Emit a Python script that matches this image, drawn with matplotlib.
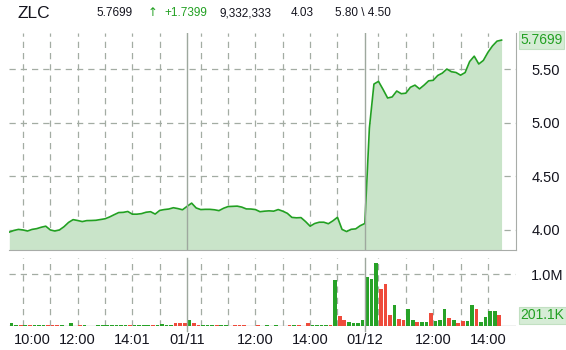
import numpy as np
import matplotlib
matplotlib.use("Agg")
import matplotlib.pyplot as plt
from matplotlib.transforms import ScaledTranslation

# ---------------- data ----------------
symbol = "ZLC"
last_price = "5.7699"
change = "+1.7399"
total_volume = "9,332,333"
prev_close = "4.03"
high_low = "5.80 \\ 4.50"

# 10-minute price samples per trading day
day1_price = [3.98, 3.995, 4.005, 4.00, 3.99, 4.005, 4.012, 4.025, 4.035, 4.00,
              3.99, 4.00, 4.03, 4.07, 4.096, 4.088, 4.078, 4.087, 4.088, 4.09,
              4.097, 4.104, 4.121, 4.142, 4.162, 4.164, 4.172, 4.147, 4.147, 4.152,
              4.165, 4.17, 4.148, 4.182, 4.19, 4.195, 4.207, 4.199, 4.188, 4.22]   # 9:30..16:00
day2_price = [4.25, 4.205, 4.19, 4.192, 4.192, 4.188, 4.18, 4.202, 4.218, 4.22,
              4.222, 4.213, 4.196, 4.195, 4.19, 4.17, 4.175, 4.178, 4.175, 4.19,
              4.175, 4.155, 4.117, 4.113, 4.115, 4.078, 4.035, 4.06, 4.072, 4.072,
              4.058, 4.085, 4.118, 4.005, 3.985, 4.006, 4.01, 4.04, 4.06]           # 9:40..16:00
day3_price = [4.95, 5.36, 5.385, 5.31, 5.23, 5.24, 5.295, 5.27, 5.275, 5.33,
              5.35, 5.315, 5.35, 5.39, 5.395, 5.44, 5.462, 5.50, 5.475, 5.468,
              5.443, 5.467, 5.57, 5.62, 5.547, 5.58, 5.655, 5.715, 5.76, 5.7699]    # 9:40..14:30

# 10-minute volume bars (millions) and direction (u = up, d = down)
day1_vol = [0.058, 0.012, 0.012, 0.012, 0.026, 0.012, 0.012, 0.012, 0.012, 0.012,
            0.012, 0.012, 0.0, 0.058, 0.0, 0.026, 0.012, 0.0, 0.0, 0.012,
            0.022, 0.022, 0.022, 0.012, 0.012, 0.012, 0.012, 0.012, 0.012, 0.012,
            0.012, 0.022, 0.012, 0.04, 0.012, 0.012, 0.05, 0.058, 0.058]
day1_dir = ['u', 'u', 'd', 'u', 'd', 'u', 'u', 'u', 'd', 'd',
            'd', 'u', 'u', 'u', 'u', 'd', 'u', 'u', 'u', 'u',
            'u', 'u', 'u', 'u', 'u', 'u', 'd', 'u', 'u', 'u',
            'u', 'd', 'u', 'u', 'u', 'u', 'd', 'd', 'd']
day2_vol = [0.11, 0.058, 0.026, 0.026, 0.012, 0.012, 0.012, 0.012, 0.012, 0.0,
            0.012, 0.012, 0.012, 0.0, 0.0, 0.012, 0.0, 0.012, 0.0, 0.012,
            0.0, 0.0, 0.022, 0.012, 0.012, 0.0, 0.058, 0.012, 0.012, 0.012,
            0.012, 0.012, 0.89, 0.185, 0.12, 0.085, 0.05, 0.05, 0.12]
day2_dir = ['u', 'd', 'd', 'u', 'u', 'u', 'd', 'u', 'u', 'u',
            'd', 'd', 'd', 'u', 'u', 'd', 'u', 'u', 'u', 'u',
            'u', 'u', 'd', 'u', 'd', 'u', 'd', 'u', 'u', 'u',
            'u', 'd', 'u', 'd', 'd', 'u', 'u', 'u', 'u']
day3_vol = [0.95, 0.91, 1.22, 0.72, 0.80, 0.22, 0.395, 0.127, 0.108, 0.318,
            0.108, 0.07, 0.07, 0.07, 0.26, 0.089, 0.108, 0.318, 0.146, 0.108,
            0.05, 0.089, 0.089, 0.395, 0.318, 0.07, 0.166, 0.28, 0.28, 0.204]
day3_dir = ['u', 'u', 'u', 'd', 'd', 'd', 'u', 'd', 'd', 'u',
            'u', 'd', 'u', 'u', 'd', 'u', 'u', 'u', 'd', 'u',
            'd', 'd', 'u', 'u', 'd', 'u', 'u', 'u', 'u', 'd']

price_ticks = [4.00, 4.50, 5.00, 5.50]
price_tick_labels = ["4.00", "4.50", "5.00", "5.50"]
vol_ticks = [1.0]
vol_tick_labels = ["1.0M"]
last_vol_label = "201.1K"

# x tick labels: (day index, time, label)
x_tick_day = [0, 0, 0, 1, 1, 1, 2, 2, 2]
x_tick_time = ["10:00", "12:00", "14:00", "09:30", "12:00", "14:00", "09:30", "12:00", "14:00"]
x_tick_labels = ["10:00", "12:00", "14:01", "01/11", "12:00", "14:00", "01/12", "12:00", "14:00"]

# ---------------- helpers ----------------
BARS_PER_DAY = 39


def tpos(day, hhmm):
    h, m = map(int, hhmm.split(":"))
    return day * BARS_PER_DAY + (h * 60 + m - 570) / 10.0


t1 = np.arange(len(day1_price))
t2 = BARS_PER_DAY + 1 + np.arange(len(day2_price))
t3 = 2 * BARS_PER_DAY + 1 + np.arange(len(day3_price))
t_price = np.concatenate([t1, t2, t3])
price = np.array(day1_price + day2_price + day3_price)

vols = np.array(day1_vol + day2_vol + day3_vol)
dirs = day1_dir + day2_dir + day3_dir
t_vol = np.concatenate([d * BARS_PER_DAY + np.arange(n) + 0.5
                        for d, n in enumerate([len(day1_vol), len(day2_vol), len(day3_vol)])])

# ---------------- styling ----------------
W, H = 566, 350
GREEN_LINE = "#22a022"
FILL = "#c9e4c9"
BAR_UP = "#27a227"
BAR_DN = "#ee4b3b"
GRID = "#a3aca3"
SEP = "#9ea89e"
TXT = "#14141e"
FONT = "Liberation Sans"
plt.rcParams["font.family"] = [FONT, "DejaVu Sans"]

fig = plt.figure(figsize=(W / 100, H / 100), dpi=100)
fig.patch.set_facecolor("white")

x_left_px, x_right_px = 9.3, 516
px_per_unit = 4.558
xmin = 0
xmax = (x_right_px - x_left_px) / px_per_unit


def frac_x(px):
    return px / W


def frac_y(px_from_top):
    return 1 - px_from_top / H


ax = fig.add_axes([frac_x(x_left_px), frac_y(250), frac_x(x_right_px - x_left_px), (250 - 33) / H])
axv = fig.add_axes([frac_x(x_left_px), frac_y(326), frac_x(x_right_px - x_left_px), (326 - 258) / H])

ymin, ymax = 3.813, 5.836
for a in (ax, axv):
    a.set_xlim(xmin, xmax)
    for s in a.spines.values():
        s.set_visible(False)
    a.set_facecolor("none")

ax.set_ylim(ymin, ymax)
axv.set_ylim(0, 1.31)

# grid lines
dash = (0, (5, 4))
for yv in price_ticks:
    ax.axhline(yv, color=GRID, lw=0.9, ls=dash, zorder=1)
for yv in vol_ticks:
    axv.axhline(yv, color=GRID, lw=0.9, ls=dash, zorder=1)

for d in range(3):
    for h in range(10, 16):
        x = tpos(d, f"{h}:00")
        if x < xmax - 2:
            ax.axvline(x, color=GRID, lw=0.9, ls=dash, zorder=1)
            axv.axvline(x, color=GRID, lw=0.9, ls=dash, zorder=1)
for d in (1, 2):
    x = tpos(d, "09:30")
    ax.axvline(x, color=SEP, lw=1.0, zorder=4)
    axv.axvline(x, color=SEP, lw=1.0, ymin=-0.07, ymax=1, clip_on=False, zorder=4)

# price area
ax.fill_between(t_price, price, ymin, color=FILL, lw=0, zorder=2)
ax.plot(t_price, price, color=GREEN_LINE, lw=1.2, zorder=3)

# borders of price panel
ax.spines["bottom"].set_visible(True)
ax.spines["bottom"].set_color("#a8aca8")
ax.spines["right"].set_visible(True)
ax.spines["right"].set_color("#a8aca8")

# volume bars
colors = [BAR_UP if c == "u" else BAR_DN for c in dirs]
axv.bar(t_vol, vols, width=0.8, color=colors, lw=0, zorder=3)
axv.axhline(0, color="#b5b8b5", lw=1.0, zorder=2)

# y tick labels
ax.yaxis.tick_right()
ax.set_yticks(price_ticks, price_tick_labels)
ax.tick_params(axis="y", length=0, pad=11, labelsize=10.5, labelcolor=TXT)
axv.yaxis.tick_right()
axv.set_yticks(vol_ticks, vol_tick_labels)
axv.tick_params(axis="y", length=0, pad=11, labelsize=10.5, labelcolor=TXT)

# x tick labels
ax.set_xticks([])
xt = [tpos(d, t) for d, t in zip(x_tick_day, x_tick_time)]
axv.set_xticks(xt, x_tick_labels)
axv.tick_params(axis="x", length=0, pad=5, labelsize=10.5, labelcolor=TXT)
first = axv.get_xticklabels()[0]
first.set_transform(first.get_transform() + ScaledTranslation(9 / 100, 0, fig.dpi_scale_trans))

# last value boxes
box = dict(boxstyle="square,pad=0.12", fc="#d6ecd6", ec="#c2e0c2", lw=0.8)
ax.annotate(last_price, xy=(1, price[-1]), xycoords=("axes fraction", "data"),
            xytext=(3.0, 0), textcoords="offset points", ha="left", va="center",
            fontsize=10, color=GREEN_LINE, bbox=box, annotation_clip=False)
axv.annotate(last_vol_label, xy=(1, vols[-1]), xycoords=("axes fraction", "data"),
             xytext=(3.0, 0), textcoords="offset points", ha="left", va="center",
             fontsize=10, color=GREEN_LINE, bbox=box, annotation_clip=False)

# header
hy = frac_y(13)
fig.text(frac_x(18), hy, symbol, fontsize=12.5, color=TXT, va="center", ha="left")
fig.text(frac_x(96), hy, last_price, fontsize=8.5, color=TXT, va="center", ha="left")
fig.text(frac_x(148), hy, "\u2191", fontsize=8.5, color=GREEN_LINE, va="center", ha="left",
         family=["DejaVu Sans"])
fig.text(frac_x(164), hy, change, fontsize=8.5, color=GREEN_LINE, va="center", ha="left")
fig.text(frac_x(220), hy, total_volume, fontsize=8.5, color=TXT, va="center", ha="left")
fig.text(frac_x(291), hy, prev_close, fontsize=8.5, color=TXT, va="center", ha="left")
fig.text(frac_x(335), hy, high_low, fontsize=8.5, color=TXT, va="center", ha="left")

fig.savefig("out.png", dpi=100, facecolor="white")
